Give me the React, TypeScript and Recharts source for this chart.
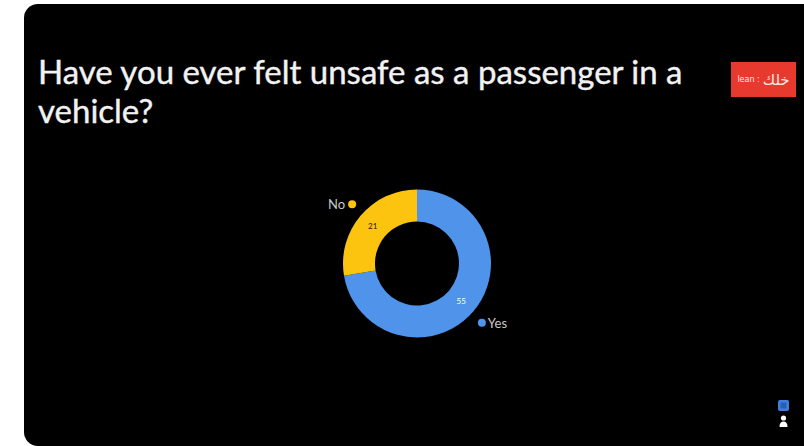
import React from "react";
import { PieChart, Pie, Cell } from "recharts";

const answers = ["Yes", "No"];
const counts = [55, 21];
const sliceColors = ["#4f94ea", "#fcc30f"];
const valueColors = ["#ffffff", "#1a1a1a"];
const titleLines = ["Have you ever felt unsafe as a passenger in a", "vehicle?"];

const rows = answers.map((name, i) => ({ name, value: counts[i] }));
const RAD = Math.PI / 180;

function SliceLabel(props: any) {
  const { cx, cy, midAngle, innerRadius, outerRadius, index, name, value } = props;
  const cos = Math.cos(-midAngle * RAD);
  const sin = Math.sin(-midAngle * RAD);
  const mid = (innerRadius + outerRadius) / 2;
  const dotX = cx + (outerRadius + 11) * cos;
  const dotY = cy + (outerRadius + 17.5) * sin;
  const onRight = cos > 0;
  return (
    <g>
      <text
        x={cx + mid * cos}
        y={cy + mid * sin}
        fill={valueColors[index]}
        fontSize={8}
        fontFamily="Lato"
        textAnchor="middle"
        dominantBaseline="central"
      >
        {value}
      </text>
      <circle cx={dotX} cy={dotY} r={4} fill={sliceColors[index]} />
      <text
        x={dotX + (onRight ? 6 : -7)}
        y={dotY}
        fill="#c8c8c8"
        fontSize={13}
        fontFamily="Lato"
        textAnchor={onRight ? "start" : "end"}
        dominantBaseline="central"
      >
        {name}
      </text>
    </g>
  );
}

export default function App() {
  return (
    <div style={{ position: "fixed", left: 0, top: 0, width: 804, height: 446, background: "#ffffff", overflow: "hidden" }}>
      <div style={{ position: "absolute", left: 24, top: 4, width: 800, height: 442, background: "#000000", borderRadius: 14 }} />
      <div
        style={{
          position: "absolute",
          left: 38,
          top: 52,
          color: "#f2f2f2",
          fontFamily: "Lato",
          fontSize: 33,
          lineHeight: "39px",
          whiteSpace: "nowrap",
          WebkitTextStroke: "0.4px #f2f2f2",
        }}
      >
        {titleLines.map((line) => (
          <div key={line}>{line}</div>
        ))}
      </div>
      <div
        style={{
          position: "absolute",
          left: 731,
          top: 62,
          width: 65,
          height: 35,
          background: "#e8392f",
          color: "#ffe9e0",
          fontFamily: "'DejaVu Sans'",
          display: "flex",
          alignItems: "center",
          justifyContent: "center",
          gap: 3,
          whiteSpace: "nowrap",
        }}
      >
        <span style={{ fontSize: 8 }}>lean :</span>
        <span style={{ fontSize: 15 }}>خلك</span>
      </div>
      <div style={{ position: "absolute", left: 0, top: 0 }}>
        <PieChart width={804} height={446} margin={{ top: 0, right: 0, bottom: 0, left: 0 }}>
          <Pie
            data={rows}
            dataKey="value"
            nameKey="name"
            cx={417}
            cy={263.5}
            innerRadius={42}
            outerRadius={74}
            startAngle={90}
            endAngle={-270}
            stroke="none"
            label={SliceLabel}
            labelLine={false}
            isAnimationActive={false}
          >
            {rows.map((row, i) => (
              <Cell key={row.name} fill={sliceColors[i]} />
            ))}
          </Pie>
        </PieChart>
      </div>
      <svg style={{ position: "absolute", left: 770, top: 394 }} width={26} height={40}>
        <rect x={8} y={6} width={11} height={11} rx={2} fill="#3f7fe0" />
        <rect x={10.5} y={8.5} width={6} height={6} fill="#2a5fb0" />
        <circle cx={13.5} cy={24} r={2.6} fill="#ffffff" />
        <path d="M9.5 33 Q9.5 27.5 13.5 27.5 Q17.5 27.5 17.5 33 Z" fill="#ffffff" />
      </svg>
    </div>
  );
}
